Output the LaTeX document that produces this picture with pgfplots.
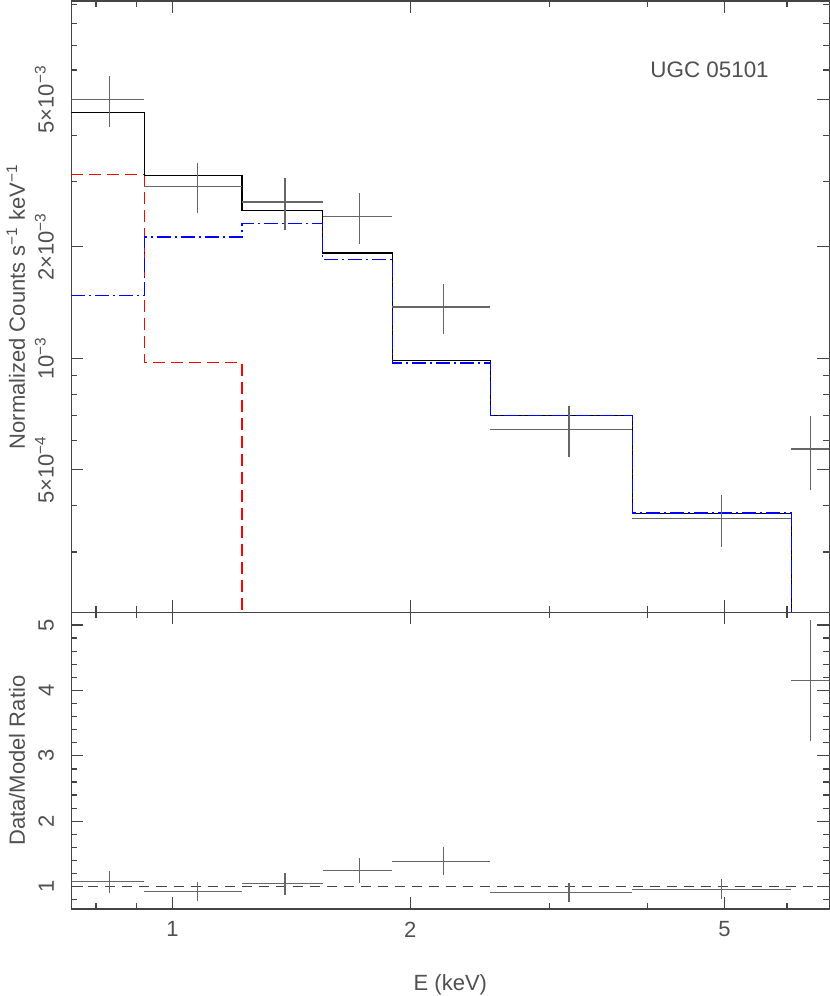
\documentclass[border=0pt]{standalone}
\usepackage{fontspec}
\setmainfont{Liberation Sans}
\usepackage{pgfplots}
\pgfplotsset{compat=1.18}
\definecolor{axgray}{HTML}{444444}
\definecolor{datagray}{HTML}{666666}
\definecolor{txtgray}{HTML}{505050}

\pgfplotsset{
  panel/.style={
    scale only axis, width=378.9pt,
    xmin=0.745, xmax=6.79,
    axis line style={axgray, line width=0.6pt},
    tick style={axgray, line width=0.6pt},
    tick align=inside,
    major tick length=6pt, minor tick length=3pt,
    xtick={1,2,5}, minor xtick={0.8,0.9,3,4,6},
    font=\fontsize{11}{13}\selectfont,
    /pgf/number format/assume math mode=true,
    ticklabel style={text=txtgray},
    label style={text=txtgray},
    yticklabel style={rotate=90, anchor=south},
    yticklabel shift=5.3pt,
    xticklabel shift=2.8pt,
    ylabel style={at={([xshift=-23.25pt]axis description cs:0,0.5)}, anchor=base},
  },
  crosses/.style={
    mark=none, draw=none,
    error bars/x dir=both, error bars/x explicit,
    error bars/y dir=both, error bars/y explicit,
    error bars/error mark=none,
    error bars/error bar style={draw=datagray, line width=0.6pt, solid},
  },
}

\begin{document}
\begin{tikzpicture}
% spectrum
\begin{loglogaxis}[panel, name=top, at={(35.75pt,191.85pt)}, anchor=south west,
  height=305.65pt,
  ymin=2.063e-4, ymax=9.21e-3,
  ytick={5e-4,1e-3,2e-3,5e-3},
  yticklabels={5×10\textsuperscript{−4},10\textsuperscript{−3},2×10\textsuperscript{−3},5×10\textsuperscript{−3}},
  minor ytick={3e-4,4e-4,6e-4,7e-4,8e-4,9e-4,3e-3,4e-3,6e-3,7e-3,8e-3,9e-3},
  xticklabels={},
  ylabel={Normalized Counts s\textsuperscript{−1}  keV\textsuperscript{−1}},
]
  % red component
  \addplot[const plot, red, line width=0.6pt, dash pattern=on 6pt off 3pt]
    coordinates {(0.745,3.13e-3)(0.921,0.973e-3)(1.225,1.9e-4)(1.549,1.9e-4)};
  % total model
  \addplot[const plot, black, line width=0.6pt]
    coordinates {(0.745,4.61e-3)(0.921,3.12e-3)(1.225,2.51e-3)(1.549,1.923e-3)
                 (1.899,0.988e-3)(2.527,7.02e-4)(3.824,3.82e-4)(6.08,1.37e-4)(6.79,1.37e-4)};
  % blue component
  \addplot[const plot, blue, line width=0.7pt, dash pattern=on 7pt off 2pt on 1pt off 2pt]
    coordinates {(0.745,1.479e-3)(0.921,2.125e-3)(1.225,2.31e-3)(1.549,1.85e-3)
                 (1.899,0.971e-3)(2.527,7.0e-4)(3.824,3.82e-4)(6.08,1.3e-4)(6.79,1.3e-4)};
  % data
  \addplot[crosses] table[x=x, y=y, x error minus=xm, x error plus=xp,
                          y error minus=ym, y error plus=yp] {
    x      xm     xp     y         ym        yp
    0.832  0.087  0.089  4.99e-3   0.79e-3   0.78e-3
    1.075  0.154  0.150  2.91e-3   0.45e-3   0.45e-3
    1.388  0.163  0.161  2.64e-3   0.42e-3   0.42e-3
    1.725  0.176  0.174  2.416e-3  0.376e-3  0.384e-3
    2.202  0.303  0.325  1.375e-3  0.209e-3  0.215e-3
    3.179  0.652  0.645  6.42e-4   1.00e-4   1.03e-4
    4.953  1.129  1.127  3.69e-4   0.59e-4   0.59e-4
    6.433  0.353  0.360  5.69e-4   1.29e-4   1.29e-4
  };
  \node[text=txtgray, font=\fontsize{11.2}{13}\selectfont] at (rel axis cs:0.842,0.887) {UGC 05101};
\end{loglogaxis}

% ratio
\begin{semilogxaxis}[panel, name=bottom, at={(35.75pt,43.5pt)}, anchor=south west,
  height=148.35pt,
  ymin=0.659, ymax=5.194,
  ytick={1,2,3,4,5}, minor ytick={0.8,1.2,1.4,1.6,1.8,2.2,2.4,2.6,2.8,3.2,3.4,3.6,3.8,4.2,4.4,4.6,4.8},
  xticklabels={1,2,5},
  ylabel={Data/Model Ratio},
  xlabel={E (keV)},
  xlabel style={at={([yshift=-40.5pt]axis description cs:0.5,0)}, anchor=base},
]
  \addplot[axgray, line width=0.6pt, dash pattern=on 5pt off 3.5pt]
    coordinates {(0.745,1)(6.79,1)};
  \addplot[crosses] table[x=x, y=y, x error minus=xm, x error plus=xp,
                          y error minus=ym, y error plus=yp] {
    x      xm     xp     y      ym     yp
    0.832  0.087  0.089  1.076  0.176  0.169
    1.075  0.154  0.150  0.930  0.144  0.146
    1.388  0.163  0.161  1.052  0.174  0.162
    1.725  0.176  0.174  1.250  0.198  0.193
    2.202  0.303  0.325  1.382  0.208  0.218
    3.179  0.652  0.645  0.914  0.144  0.136
    4.953  1.129  1.127  0.960  0.153  0.153
    6.433  0.353  0.360  4.150  0.930  0.930
  };
\end{semilogxaxis}
\pgfresetboundingbox
\useasboundingbox (0,0) rectangle (415pt,498pt);
\end{tikzpicture}
\end{document}
